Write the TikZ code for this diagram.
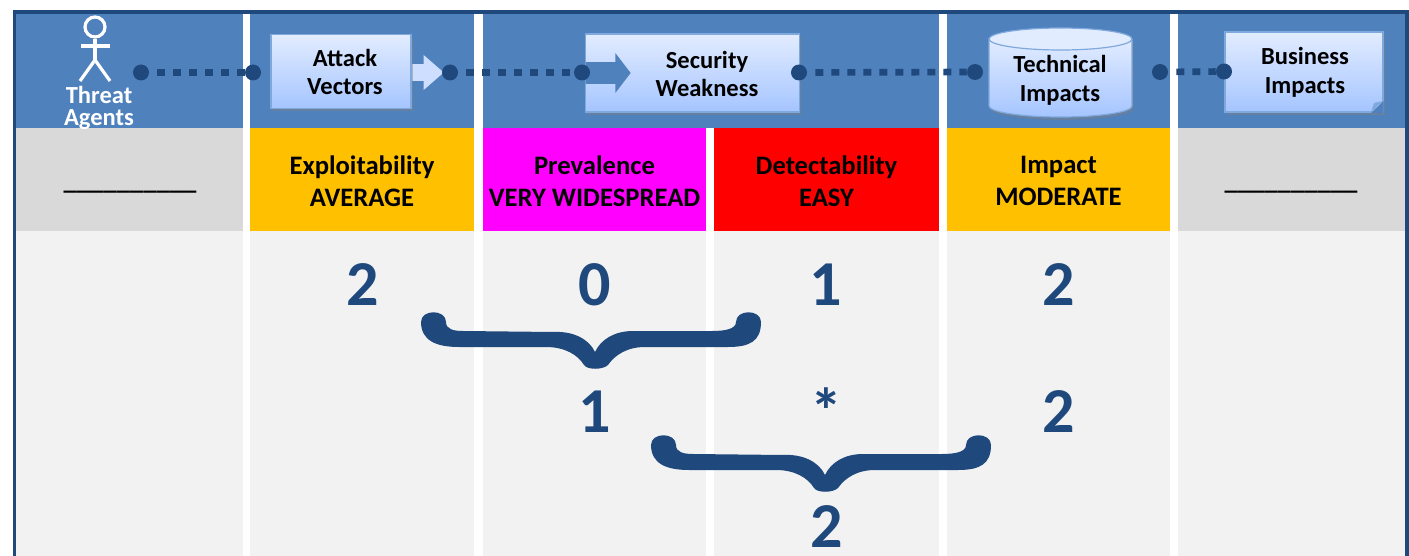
\documentclass[tikz,border=0pt]{standalone}
\usepackage{fontspec}
\setmainfont{Carlito}
\usetikzlibrary{shapes.arrows}
\usetikzlibrary{shadows}
\definecolor{headblue}{HTML}{4F81BD}
\definecolor{darkblue}{HTML}{1F497D}
\definecolor{edgeblue}{HTML}{7FA8DC}
\definecolor{boxtop}{HTML}{E2ECFF}
\definecolor{boxbot}{HTML}{A5C5FF}
\definecolor{amber}{HTML}{FFC000}
\definecolor{pinkish}{HTML}{FF00FF}
\tikzset{
    mycell/.style = {rectangle, inner sep=0pt, align=center, font=\bfseries\fontsize{20}{24}\selectfont, text=black},
    cellhead/.style = {mycell, fill=headblue, minimum height=86.25pt},
    cellgray/.style = {mycell, fill=gray!30, minimum height=77.25pt},
    cellorange/.style = {mycell, fill=amber, minimum height=77.25pt},
    cellmagenta/.style = {mycell, fill=pinkish, minimum height=77.25pt},
    cellred/.style = {mycell, fill=red, minimum height=77.25pt},
    cellbody/.style = {mycell, fill=black!5, minimum height=243.75pt},
    mybox/.style = {rectangle, draw=edgeblue, line width=0.9pt, top color=boxtop, bottom color=boxbot, drop shadow={shadow xshift=1.2pt,shadow yshift=-2.2pt,opacity=.45}},
    boxtext/.style = {inner sep=0pt, align=center, font=\bfseries\fontsize{18.4}{21.5}\selectfont, text=black},
    threattext/.style = {inner sep=0pt, align=center, font=\bfseries\fontsize{18.4}{16.5}\selectfont, text=white},
    mydot/.style = {circle, fill=darkblue, inner sep=0pt, minimum size=12pt},
    edged/.style = {-, line width=5pt, darkblue, dash pattern=on 6pt off 6pt, dash phase=6pt},
    mynum/.style = {inner sep=0pt, font=\bfseries\fontsize{48}{48}\selectfont, text=darkblue},
    pics/mybrace/.style = {code={
        \fill[darkblue] (-174,-47) .. controls (-174,-28) and (-158,-22) .. (-136,-22)
            -- (-49,-22) .. controls (-30,-22) and (-17,-14) .. (-11,-4)
            .. controls (-8,1) and (8,1) .. (13,-4)
            .. controls (20,-14) and (32,-22) .. (50,-22)
            -- (133,-22) .. controls (155,-22) and (166,-28) .. (166,-47)
            .. controls (166,-60) and (141,-60) .. (141,-47)
            .. controls (141,-40) and (130,-38) .. (117,-38)
            -- (38,-38) .. controls (20,-38) and (6,-30) .. (0,-17)
            .. controls (-6,-30) and (-22,-38) .. (-41,-37)
            -- (-132,-38) .. controls (-142,-38) and (-149,-40) .. (-149,-47)
            .. controls (-149,-60) and (-174,-60) .. (-174,-47) -- cycle;
    }}
}

\begin{document}
\begin{tikzpicture}[x=0.75pt,y=-0.75pt]
\useasboundingbox (0,0) rectangle (1409,556);
% header row
\node[cellhead, minimum width=170.25pt] at (129.5,70.5) (h1) {};
\node[cellhead, minimum width=168pt] at (362,70.5) (h2) {};
\node[cellhead, minimum width=342pt] at (711,70.5) (h3) {};
\node[cellhead, minimum width=167.25pt] at (1058.5,70.5) (h4) {};
\node[cellhead, minimum width=170.25pt] at (1291.5,70.5) (h5) {};
% rating row
\node[cellgray, minimum width=170.25pt] at (129.5,179.5) (r1) {};
\node[cellorange, minimum width=168pt] at (362,179.5) (r2) {};
\node[cellmagenta, minimum width=167.25pt] at (594.5,179.5) (r3) {};
\node[cellred, minimum width=168.75pt] at (826.5,179.5) (r4) {};
\node[cellorange, minimum width=167.25pt] at (1058.5,179.5) (r5) {};
\node[cellgray, minimum width=170.25pt] at (1291.5,179.5) (r6) {};
%
\node[mycell] at (130,191) (t1) {\_\_\_\_\_\_\_\_\_\_};
\node[mycell] at (362,181) (t2) {Exploitability\\AVERAGE};
\node[mycell] at (594.5,181) (t3) {Prevalence\\VERY WIDESPREAD};
\node[mycell] at (826.5,181) (t4) {Detectability\\EASY};
\node[mycell] at (1058.5,181) (t5) {Impact\\MODERATE};
\node[mycell] at (1291,191) (t6) {\_\_\_\_\_\_\_\_\_\_};
% score area
\node[cellbody, minimum width=170.25pt] at (129.5,393.5) (b1) {};
\node[cellbody, minimum width=168pt] at (362,393.5) (b2) {};
\node[cellbody, minimum width=167.25pt] at (594.5,393.5) (b3) {};
\node[cellbody, minimum width=168.75pt] at (826.5,393.5) (b4) {};
\node[cellbody, minimum width=167.25pt] at (1058.5,393.5) (b5) {};
\node[cellbody, minimum width=170.25pt] at (1291.5,393.5) (b6) {};
% frame
\draw[darkblue, line width=2.6pt] (14.5,556) -- (14.5,12) -- (1407,12) -- (1407,556);
% threat agent
\node[circle, draw=white, line width=2.4pt, inner sep=0pt, minimum size=15pt] at (95,27) (head) {};
\coordinate (hip) at (95,60);
\draw[white, line width=2.4pt] (head) -- (hip);
\draw[white, line width=2.4pt] (81,46) -- (110,46);
\draw[white, line width=2.4pt] (80,81) -- (hip) -- (110,81);
\node[threattext] at (99,108) (threat) {Threat\\Agents};
% arrows behind the boxes
\node[single arrow, fill=boxtop!65!boxbot, inner xsep=0pt, inner ysep=6pt, minimum height=27pt, single arrow head extend=7pt, single arrow head indent=0pt, single arrow tip angle=82] at (421,72.5) (attackarrow) {};
% boxes
\node[mybox, minimum width=105pt, minimum height=55pt] at (341,71.5) (attack) {};
\node[boxtext] at (345,72) (attacktext) {Attack\\Vectors};
\node[mybox, minimum width=160pt, minimum height=58.5pt] at (692.5,73) (weak) {};
\node[boxtext] at (707,74) (weaktext) {Security\\Weakness};
\node[single arrow, fill=headblue, inner xsep=0pt, inner ysep=7.9pt, minimum height=33.75pt, single arrow head extend=6.75pt, single arrow head indent=0pt, single arrow tip angle=105] at (604,73) (weakarrow) {};
% technical impacts
\path[draw=edgeblue, line width=0.9pt, top color=boxtop, bottom color=boxbot, drop shadow={shadow xshift=1.2pt,shadow yshift=-2.2pt,opacity=.45}]
    (989,39) -- (989,106) arc[start angle=180,end angle=0,x radius=71.5,y radius=11] -- (1132,39) -- cycle;
\draw[edgeblue, line width=0.9pt, fill=boxtop] (1060.5,39) ellipse [x radius=71.5,y radius=11];
\node[boxtext] at (1060,80) (techtext) {Technical\\Impacts};
% business impacts
\node[mybox, minimum width=118.5pt, minimum height=60pt] at (1304,72) (business) {};
\fill[headblue] (1383.5,101) -- (1383.5,113) -- (1371,113) -- cycle;
\fill[edgeblue] (1371,112) -- (1374,103) -- (1383,101) -- cycle;
\node[boxtext] at (1305,72) (bustext) {Business\\Impacts};
% connector dots
\node[mydot] at (141,72.5) (d1) {};
\node[mydot] at (253,72.5) (d2) {};
\node[mydot] at (450,72.5) (d3) {};
\node[mydot] at (582,72.5) (d4) {};
\node[mydot] at (799,72.5) (d5) {};
\node[mydot] at (975,72) (d6) {};
\node[mydot] at (1160,72) (d7) {};
\node[mydot] at (1224,71.5) (d8) {};
%
\draw[edged] (d1) -- (d2);
\draw[edged] (d3) -- (d4);
\draw[edged] (d5) -- (d6);
\draw[edged] (d7) -- (d8);
% scores
\node[mynum] at (363,285) (n1) {2};
\node[mynum] at (595,285) (n2) {0};
\node[mynum] at (826,285) (n3) {1};
\node[mynum] at (1059,285) (n4) {2};
\pic at (595,369) {mybrace};
\node[mynum] at (595,412) (n5) {1};
\node[mynum] at (826,411) (n6) {*};
\node[mynum] at (1059,412) (n7) {2};
\pic at (825,492) {mybrace};
\node[mynum] at (827,527) (n8) {2};
\end{tikzpicture}
\end{document}
